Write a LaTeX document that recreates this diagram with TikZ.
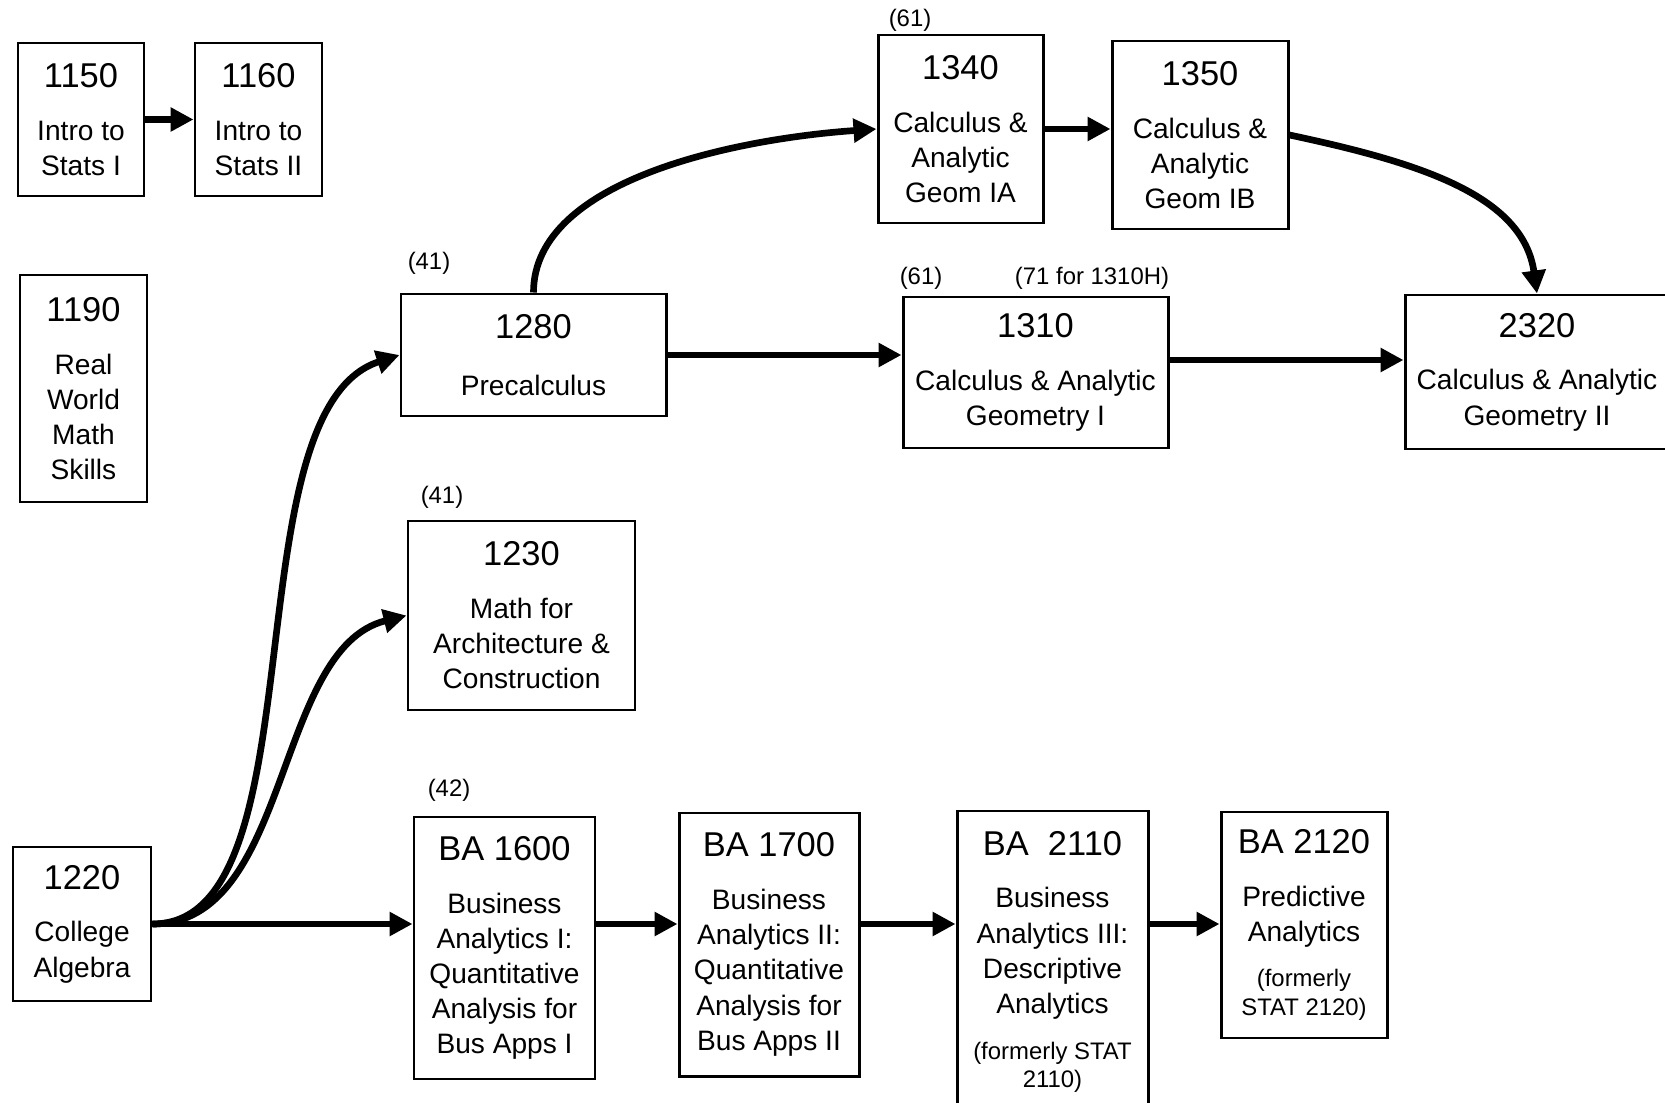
\documentclass[tikz,border=0pt]{standalone}
\usepackage{fontspec}
\setmainfont{Liberation Sans}
\usetikzlibrary{arrows.meta}

\newcommand{\crsnum}{\fontsize{9.8}{11.5}\selectfont}
\newcommand{\crsname}{\fontsize{8}{10}\selectfont}
\newcommand{\crsnote}{\fontsize{6.8}{8.2}\selectfont}

\begin{document}
\begin{tikzpicture}[
  course/.style 2 args={draw,line width=0.85pt,inner sep=0pt,align=flush center,font=\crsname,
    minimum width=#1cm,text width=#1cm,minimum height=#2cm},
  note/.style={inner sep=0pt,font=\crsnote},
  arr/.style={-{Triangle[length=2.3mm,width=2.3mm]},line width=1.9pt}]
  \useasboundingbox (0,0) rectangle (16.65,-11.03);
  \clip (0,0) rectangle (16.65,-11.03);
  % stats and other entry courses
  \node[course={1.26}{1.53}] (1150) at (0.81,-1.195) {\crsnum 1150\par\vspace{5pt}\crsname Intro to\par Stats I\par};
  \node[course={1.27}{1.53}] (1160) at (2.585,-1.195) {\crsnum 1160\par\vspace{5pt}\crsname Intro to\par Stats II\par};
  \node[course={1.27}{2.27}] (1190) at (0.835,-3.885) {\crsnum 1190\par\vspace{5pt}\crsname Real\par World\par Math\par Skills\par};
  \node[course={1.38}{1.54}] (1220) at (0.82,-9.24) {\crsnum 1220\par\vspace{5pt}\crsname College\par Algebra\par};
  % calculus track
  \node[course={2.65}{1.22}] (1280) at (5.335,-3.55) {\crsnum 1280\par\vspace{6pt}\crsname Precalculus\par};
  \node[course={2.27}{1.89}] (1230) at (5.215,-6.155) {\crsnum 1230\par\vspace{5pt}\crsname Math for\par Architecture \&\par Construction\par};
  \node[course={1.65}{1.88}] (1340) at (9.605,-1.29) {\crsnum 1340\par\vspace{5pt}\crsname Calculus \&\par Analytic\par Geom IA\par};
  \node[course={1.76}{1.88}] (1350) at (12.0,-1.35) {\crsnum 1350\par\vspace{5pt}\crsname Calculus \&\par Analytic\par Geom IB\par};
  \node[course={2.65}{1.51}] (1310) at (10.355,-3.725) {\crsnum 1310\par\vspace{5pt}\crsname Calculus \& Analytic\par Geometry I\par};
  \node[course={2.64}{1.54}] (2320) at (15.37,-3.72) {\crsnum 2320\par\vspace{5pt}\crsname Calculus \& Analytic\par Geometry II\par};
  % business analytics track
  \node[course={1.81}{2.62}] (BA1600) at (5.045,-9.48) {\crsnum BA 1600\par\vspace{5pt}\crsname Business\par Analytics I:\par Quantitative\par Analysis for\par Bus Apps I\par};
  \node[course={1.80}{2.63}] (BA1700) at (7.69,-9.445) {\crsnum BA 1700\par\vspace{5pt}\crsname Business\par Analytics II:\par Quantitative\par Analysis for\par Bus Apps II\par};
  \node[course={1.91}{3.02}] (BA2110) at (10.525,-9.62) {\crsnum BA~~2110\par\vspace{5pt}\crsname Business\par Analytics III:\par Descriptive\par Analytics\par\vspace{4.8pt}\crsnote (formerly STAT\par 2110)\par};
  \node[course={1.66}{2.26}] (BA2120) at (13.04,-9.25) {\crsnum BA 2120\par\vspace{5pt}\crsname Predictive\par Analytics\par\vspace{4.8pt}\crsnote (formerly\par STAT 2120)\par};
  % numbers over the boxes
  \node[note] (n1340) at (9.10,-0.20) {(61)};
  \node[note] (n1280) at (4.29,-2.63) {(41)};
  \node[note] (n1310) at (9.21,-2.78) {(61)};
  \node[note] (n1310H) at (10.92,-2.78) {(71 for 1310H)};
  \node[note] (n1230) at (4.42,-4.97) {(41)};
  \node[note] (n1600) at (4.49,-7.90) {(42)};
  \coordinate (calrow) at (0,-3.60);
  \coordinate (barow) at (0,-9.24);
  \path[arr]
    (1150) edge (1160)
    (1280.east) edge (1280.east -| 1310.west)
    (calrow -| 1310.east) edge (calrow -| 2320.west)
    (1340.east) edge (1340.east -| 1350.west)
    (1220.east) edge (barow -| BA1600.west)
    (barow -| BA1600.east) edge (barow -| BA1700.west)
    (barow -| BA1700.east) edge (barow -| BA2110.west)
    (barow -| BA2110.east) edge (barow -| BA2120.west);
  \path[arr]
    (1220.east) edge[out=0,in=198,out distance=1.7cm,in distance=1.8cm] (1280.west)
    (1220.east) edge[out=0,in=194,out distance=1.39cm,in distance=1.37cm] (1230.west)
    (1280.north) edge[out=90,in=184,out distance=1.14cm,in distance=1.37cm] (1340.west)
    (1350.east) edge[out=-12,in=98,out distance=1.3cm,in distance=1.0cm] (2320.north);
\end{tikzpicture}
\end{document}
